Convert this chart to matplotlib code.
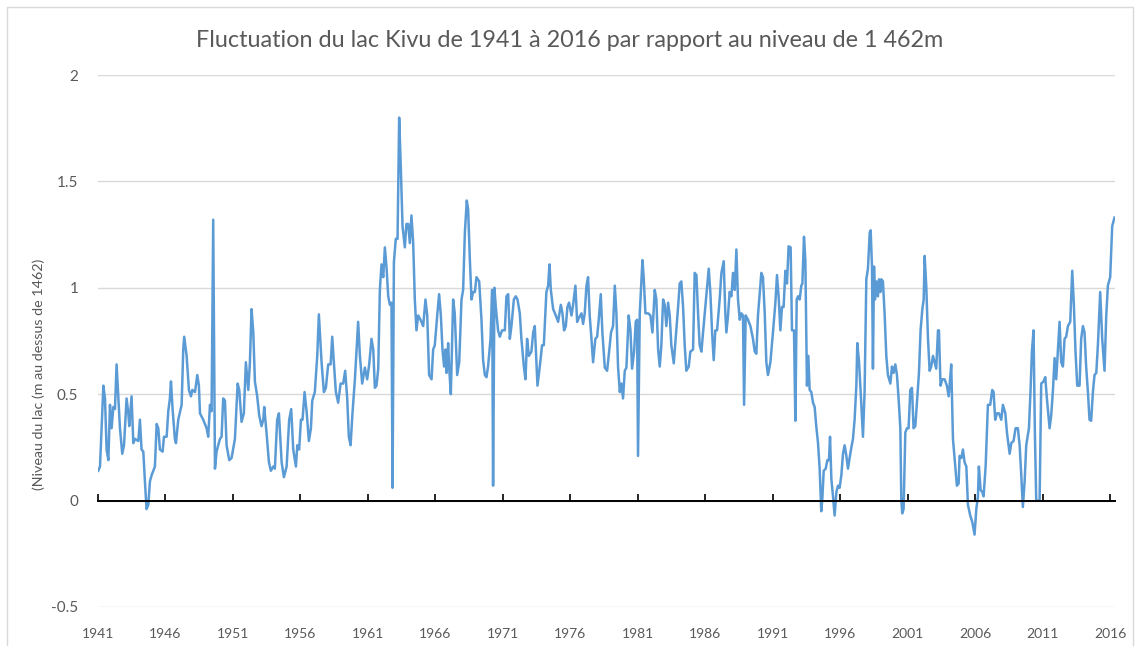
import matplotlib
matplotlib.use("Agg")
import matplotlib.pyplot as plt
from matplotlib.patches import Rectangle

# niveau du lac Kivu (annee decimale, m au dessus de 1462)
annees = [
    1941.02, 1941.15, 1941.40, 1941.52, 1941.64, 1941.77, 1941.89, 1942.01, 1942.14, 1942.26,
    1942.38, 1942.51, 1942.63, 1942.80, 1942.93, 1943.12, 1943.25, 1943.32, 1943.49, 1943.62,
    1943.74, 1943.99, 1944.11, 1944.23, 1944.36, 1944.48, 1944.60, 1944.73, 1944.85, 1944.98,
    1945.22, 1945.35, 1945.47, 1945.59, 1945.79, 1945.89, 1946.09, 1946.21, 1946.33, 1946.41,
    1946.53, 1946.70, 1946.78, 1946.95, 1947.20, 1947.32, 1947.39, 1947.57, 1947.74, 1947.89,
    1947.99, 1948.19, 1948.36, 1948.48,
    1948.56, 1948.80, 1949.05, 1949.17, 1949.30, 1949.42, 1949.54, 1949.67, 1949.79, 1949.91,
    1950.04, 1950.16, 1950.28, 1950.41, 1950.53, 1950.73, 1950.90, 1951.15, 1951.35, 1951.47,
    1951.64, 1951.81, 1951.96, 1952.14, 1952.26, 1952.38, 1952.51, 1952.63, 1952.80, 1952.95,
    1953.12, 1953.25, 1953.32, 1953.49, 1953.67, 1953.81, 1953.99, 1954.11, 1954.28, 1954.41,
    1954.61, 1954.78, 1954.98, 1955.17, 1955.32, 1955.47, 1955.67, 1955.77, 1955.91, 1956.04,
    1956.16, 1956.31, 1956.46, 1956.63, 1956.78, 1956.88, 1957.07, 1957.25,
    1957.37, 1957.57, 1957.74, 1957.89, 1958.06, 1958.24, 1958.36, 1958.48, 1958.63, 1958.80,
    1958.98, 1959.17, 1959.32, 1959.47, 1959.59, 1959.72, 1959.86, 1960.04, 1960.28, 1960.41,
    1960.58, 1960.78, 1960.95, 1961.10, 1961.27, 1961.40, 1961.52, 1961.64, 1961.77, 1961.89,
    1962.01, 1962.14, 1962.26, 1962.38, 1962.51, 1962.63, 1962.75, 1962.83, 1962.93, 1963.07,
    1963.20, 1963.32, 1963.44, 1963.57, 1963.74, 1963.86, 1963.99, 1964.11, 1964.23, 1964.36,
    1964.48, 1964.60, 1964.73, 1964.90, 1965.10, 1965.27, 1965.40, 1965.54,
    1965.72, 1965.84, 1965.96, 1966.14, 1966.28, 1966.41, 1966.53, 1966.65, 1966.75, 1966.83,
    1966.95, 1967.02, 1967.15, 1967.32, 1967.44, 1967.62, 1967.77, 1967.94, 1968.06, 1968.19,
    1968.33, 1968.43, 1968.56, 1968.68, 1968.80, 1968.93, 1969.05, 1969.25, 1969.42, 1969.54,
    1969.67, 1969.79, 1969.91, 1970.09, 1970.21, 1970.28, 1970.38, 1970.48, 1970.65, 1970.78,
    1970.95, 1971.15, 1971.27, 1971.40, 1971.52, 1971.64, 1971.82, 1971.96, 1972.09, 1972.26,
    1972.38, 1972.56, 1972.68, 1972.80, 1972.93, 1973.12, 1973.25, 1973.37,
    1973.57, 1973.74, 1973.91, 1974.04, 1974.23, 1974.36, 1974.46, 1974.56, 1974.73, 1974.93,
    1975.10, 1975.30, 1975.42, 1975.54, 1975.67, 1975.79, 1975.91, 1976.09, 1976.21, 1976.38,
    1976.51, 1976.65, 1976.83, 1976.95, 1977.07, 1977.20, 1977.32, 1977.44, 1977.57, 1977.69,
    1977.86, 1977.99, 1978.11, 1978.26, 1978.38, 1978.56, 1978.73, 1978.88, 1979.02, 1979.17,
    1979.30, 1979.42, 1979.54, 1979.67, 1979.79, 1979.91, 1980.04, 1980.16, 1980.33, 1980.46,
    1980.58, 1980.73, 1980.85, 1980.95, 1981.02, 1981.15,
    1981.35, 1981.44, 1981.57, 1981.77, 1981.94, 1982.09, 1982.26, 1982.38, 1982.51, 1982.63,
    1982.75, 1982.88, 1983.00, 1983.12, 1983.25, 1983.37, 1983.49, 1983.67, 1983.81, 1983.99,
    1984.11, 1984.23, 1984.36, 1984.48, 1984.60, 1984.78, 1984.90, 1985.10, 1985.22, 1985.35,
    1985.47, 1985.59, 1985.72, 1985.84, 1986.01, 1986.26, 1986.38, 1986.51, 1986.63, 1986.75,
    1986.88, 1987.07, 1987.20, 1987.37, 1987.49, 1987.57, 1987.69, 1987.81, 1987.94, 1988.06,
    1988.19, 1988.31, 1988.43, 1988.56, 1988.68, 1988.80, 1988.88, 1989.00, 1989.17, 1989.35,
    1989.54, 1989.67, 1989.79,
    1989.91, 1990.16, 1990.28, 1990.41, 1990.53, 1990.65, 1990.83, 1991.02, 1991.20, 1991.32,
    1991.44, 1991.57, 1991.69, 1991.81, 1991.94, 1992.06, 1992.18, 1992.33, 1992.43, 1992.58,
    1992.68, 1992.78, 1992.88, 1993.00, 1993.12, 1993.20, 1993.32, 1993.42, 1993.54, 1993.64,
    1993.74, 1993.86, 1993.99, 1994.11, 1994.23, 1994.36, 1994.48, 1994.60, 1994.68, 1994.78,
    1994.93, 1995.05, 1995.17, 1995.25, 1995.35, 1995.47, 1995.59, 1995.72, 1995.84, 1995.96,
    1996.09, 1996.21, 1996.33, 1996.46, 1996.58, 1996.70, 1996.83, 1996.95, 1997.07, 1997.20,
    1997.27, 1997.40, 1997.52,
    1997.69, 1997.81, 1997.94, 1998.06, 1998.19, 1998.26, 1998.36, 1998.43, 1998.51, 1998.58,
    1998.68, 1998.80, 1998.88, 1998.98, 1999.05, 1999.17, 1999.30, 1999.42, 1999.54, 1999.72,
    1999.84, 1999.96, 2000.09, 2000.21, 2000.33, 2000.46, 2000.53, 2000.60, 2000.70, 2000.83,
    2000.95, 2001.07, 2001.20, 2001.32, 2001.44, 2001.57, 2001.69, 2001.84, 2001.96, 2002.09,
    2002.19, 2002.26, 2002.38, 2002.51, 2002.63, 2002.75, 2002.88, 2003.00, 2003.12, 2003.25,
    2003.32, 2003.44, 2003.57, 2003.74, 2003.91, 2004.04, 2004.11, 2004.23, 2004.36, 2004.48,
    2004.65, 2004.78, 2004.85, 2004.98, 2005.10, 2005.22, 2005.35, 2005.47, 2005.64, 2005.79,
    2005.96,
    2006.09, 2006.21, 2006.28, 2006.41, 2006.53, 2006.63, 2006.78, 2006.95, 2007.12, 2007.27,
    2007.37, 2007.49, 2007.62, 2007.77, 2007.94, 2008.06, 2008.24, 2008.36, 2008.56, 2008.68,
    2008.85, 2009.00, 2009.17, 2009.30, 2009.42, 2009.54, 2009.67, 2009.79, 2009.99, 2010.11,
    2010.21, 2010.33, 2010.43, 2010.53, 2010.65, 2010.78, 2010.90, 2011.07, 2011.20, 2011.32,
    2011.52, 2011.64, 2011.77, 2011.89, 2012.01, 2012.14,
    2012.26, 2012.38, 2012.51, 2012.63, 2012.75, 2012.88, 2013.05, 2013.20, 2013.32, 2013.44,
    2013.57, 2013.74, 2013.86, 2013.99, 2014.11, 2014.23, 2014.36, 2014.48, 2014.60, 2014.73,
    2014.85, 2014.98, 2015.10, 2015.27, 2015.42, 2015.59, 2015.72, 2015.84, 2016.01, 2016.16,
    2016.33,
]

niveau = [
    0.14, 0.16, 0.54, 0.48, 0.24, 0.19, 0.45, 0.34, 0.44, 0.43,
    0.64, 0.48, 0.34, 0.22, 0.26, 0.48, 0.41, 0.35, 0.49, 0.27,
    0.29, 0.28, 0.38, 0.24, 0.23, 0.09, -0.04, -0.02, 0.09, 0.12,
    0.16, 0.36, 0.34, 0.24, 0.23, 0.30, 0.30, 0.42, 0.48, 0.56,
    0.43, 0.29, 0.27, 0.38, 0.45, 0.71, 0.77, 0.68, 0.52, 0.49,
    0.52, 0.51, 0.59, 0.54,
    0.41, 0.38, 0.34, 0.30, 0.45, 0.42, 1.32, 0.15, 0.23, 0.26,
    0.29, 0.30, 0.48, 0.47, 0.26, 0.19, 0.20, 0.29, 0.55, 0.52,
    0.37, 0.41, 0.65, 0.52, 0.65, 0.90, 0.79, 0.56, 0.49, 0.40,
    0.35, 0.38, 0.44, 0.32, 0.18, 0.14, 0.16, 0.15, 0.38, 0.41,
    0.18, 0.11, 0.16, 0.38, 0.43, 0.24, 0.16, 0.26, 0.24, 0.38,
    0.38, 0.51, 0.42, 0.28, 0.34, 0.47, 0.51, 0.68,
    0.875, 0.65, 0.51, 0.53, 0.64, 0.64, 0.77, 0.65, 0.51, 0.46,
    0.55, 0.55, 0.61, 0.48, 0.30, 0.26, 0.41, 0.57, 0.84, 0.68,
    0.55, 0.625, 0.57, 0.64, 0.76, 0.71, 0.53, 0.54, 0.62, 0.99,
    1.11, 1.05, 1.19, 1.10, 0.96, 0.92, 0.93, 0.06, 1.12, 1.23,
    1.23, 1.80, 1.57, 1.29, 1.19, 1.30, 1.30, 1.21, 1.34, 1.21,
    0.945, 0.80, 0.87, 0.85, 0.82, 0.945, 0.87, 0.59,
    0.57, 0.71, 0.73, 0.87, 0.97, 0.87, 0.71, 0.63, 0.71, 0.60,
    0.74, 0.63, 0.50, 0.945, 0.88, 0.59, 0.65, 0.945, 0.99, 1.26,
    1.41, 1.37, 1.13, 0.945, 0.98, 0.98, 1.05, 1.03, 0.85, 0.66,
    0.59, 0.58, 0.63, 0.76, 0.99, 0.07, 1.00, 0.91, 0.80, 0.77,
    0.80, 0.80, 0.96, 0.97, 0.76, 0.82, 0.945, 0.96, 0.945, 0.88,
    0.76, 0.63, 0.57, 0.76, 0.68, 0.70, 0.79, 0.82,
    0.54, 0.63, 0.73, 0.73, 0.98, 1.01, 1.11, 0.99, 0.90, 0.87,
    0.84, 0.92, 0.88, 0.80, 0.82, 0.91, 0.93, 0.87, 0.92, 1.01,
    0.84, 0.86, 0.88, 0.83, 0.88, 1.01, 1.05, 0.87, 0.76, 0.65,
    0.76, 0.77, 0.85, 0.97, 0.79, 0.625, 0.61, 0.70, 0.79, 0.82,
    1.01, 0.88, 0.63, 0.51, 0.55, 0.48, 0.61, 0.625, 0.87, 0.80,
    0.62, 0.70, 0.84, 0.85, 0.21, 0.88,
    1.13, 1.05, 0.88, 0.88, 0.87, 0.79, 0.99, 0.945, 0.71, 0.63,
    0.73, 0.945, 0.92, 0.82, 0.93, 0.87, 0.73, 0.645, 0.76, 0.91,
    1.02, 1.03, 0.91, 0.73, 0.61, 0.63, 0.70, 0.71, 1.07, 1.06,
    0.88, 0.73, 0.70, 0.79, 0.91, 1.09, 0.98, 0.79, 0.66, 0.80,
    0.80, 0.945, 1.07, 1.125, 0.88, 0.79, 0.87, 0.98, 0.96, 1.07,
    0.99, 1.18, 0.945, 0.85, 0.88, 0.87, 0.45, 0.87, 0.85, 0.82,
    0.76, 0.70, 0.69,
    0.87, 1.07, 1.05, 0.88, 0.65, 0.59, 0.65, 0.79, 0.93, 1.06,
    0.96, 0.80, 0.91, 0.91, 1.08, 1.02, 1.195, 1.19, 0.80, 0.80,
    0.375, 0.945, 0.96, 0.945, 1.01, 1.02, 1.24, 1.13, 0.54, 0.68,
    0.52, 0.51, 0.46, 0.44, 0.35, 0.27, 0.15, -0.05, 0.01, 0.14,
    0.15, 0.19, 0.19, 0.30, 0.10, 0.02, -0.07, 0.04, 0.07, 0.06,
    0.12, 0.22, 0.26, 0.21, 0.15, 0.20, 0.25, 0.29, 0.38, 0.54,
    0.74, 0.65, 0.51,
    0.30, 0.51, 1.04, 1.09, 1.26, 1.27, 1.10, 0.62, 1.10, 0.945,
    1.03, 0.96, 1.04, 0.98, 1.04, 1.03, 0.87, 0.68, 0.59, 0.55,
    0.63, 0.60, 0.64, 0.59, 0.48, 0.34, 0.01, -0.06, -0.04, 0.32,
    0.34, 0.34, 0.52, 0.53, 0.34, 0.35, 0.46, 0.60, 0.80, 0.90,
    0.945, 1.15, 1.01, 0.76, 0.61, 0.63, 0.68, 0.65, 0.62, 0.80,
    0.80, 0.54, 0.57, 0.57, 0.54, 0.49, 0.54, 0.64, 0.29, 0.20,
    0.07, 0.08, 0.21, 0.20, 0.24, 0.18, 0.16, -0.02, -0.07, -0.10,
    -0.16,
    -0.04, 0.02, 0.16, 0.05, 0.04, 0.02, 0.16, 0.45, 0.45, 0.52,
    0.51, 0.38, 0.41, 0.41, 0.38, 0.45, 0.41, 0.32, 0.22, 0.27,
    0.28, 0.34, 0.34, 0.26, 0.12, -0.03, 0.09, 0.26, 0.34, 0.52,
    0.70, 0.80, 0.32, 0.00, 0.00, 0.00, 0.55, 0.56, 0.58, 0.48,
    0.34, 0.40, 0.52, 0.67, 0.57, 0.71,
    0.84, 0.65, 0.63, 0.76, 0.77, 0.82, 0.84, 1.08, 0.92, 0.70,
    0.54, 0.54, 0.76, 0.82, 0.79, 0.63, 0.51, 0.38, 0.375, 0.51,
    0.59, 0.60, 0.73, 0.98, 0.76, 0.61, 0.87, 1.01, 1.05, 1.29,
    1.33,
]

ticks_annees = list(range(1941, 2017, 5))
ticks_niveau = [-0.5, 0, 0.5, 1, 1.5, 2]

titre = "Fluctuation du lac Kivu de 1941 à 2016 par rapport au niveau de 1 462m"
label_y = "(Niveau du lac (m au dessus de 1462)"

gris = "#595959"
bleu = "#5B9BD5"
police = ["Lato", "DejaVu Sans"]

fig = plt.figure(figsize=(11.4, 6.46), dpi=100)
ax = fig.add_axes([0.0857, 0.0604, 0.8924, 0.8235])

ax.plot(annees, niveau, color=bleu, lw=1.8, solid_joinstyle="round")

ax.set_xlim(1940.98, 2016.37)
ax.set_ylim(-0.5, 2.0)

ax.set_yticks(ticks_niveau)
ax.set_yticklabels(["-0.5", "0", "0.5", "1", "1.5", "2"])
ax.tick_params(axis="y", length=0, pad=14, labelsize=11, labelcolor=gris)
for lab in ax.get_yticklabels():
    lab.set_family(police)
ax.grid(axis="y", color="#d9d9d9", lw=1.0)
ax.set_axisbelow(True)

for s in ["left", "right", "top"]:
    ax.spines[s].set_visible(False)
ax.spines["bottom"].set_position(("data", 0))
ax.spines["bottom"].set_color("black")
ax.spines["bottom"].set_linewidth(1.4)
ax.spines["bottom"].set_zorder(3)

ax.set_xticks(ticks_annees)
ax.tick_params(axis="x", direction="in", length=5, width=1.2, color="black",
               labelbottom=False)

# etiquettes des annees en bas du graphique
sec = ax.secondary_xaxis("bottom")
sec.set_xticks(ticks_annees)
sec.set_xticklabels([str(a) for a in ticks_annees])
sec.tick_params(length=0, pad=15, labelsize=10, labelcolor=gris)
sec.spines["bottom"].set_visible(False)
for lab in sec.get_xticklabels():
    lab.set_family(police)

fig.text(0.5, 0.938, titre, ha="center", va="center", fontsize=16.8,
         color=gris, family=police)
fig.text(0.034, 0.42, label_y, ha="center", va="center", rotation=90,
         fontsize=10.3, color=gris, family=police)

fig.patches.append(Rectangle((7 / 1140, -0.05), 1126 / 1140, 639 / 646 + 0.05,
                             transform=fig.transFigure, fill=False,
                             edgecolor="#d9d9d9", lw=1.0))

fig.savefig("out.png", dpi=100)
